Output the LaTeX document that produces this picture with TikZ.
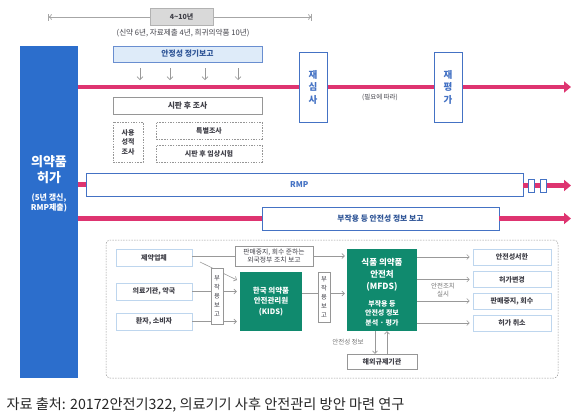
\documentclass[tikz,border=0pt]{standalone}
\usepackage{fontspec}
\setmainfont{Noto Sans CJK KR}
\usetikzlibrary{arrows.meta}
\definecolor{pk}{RGB}{222,52,112}
\definecolor{bl}{RGB}{44,110,204}
\definecolor{bd}{RGB}{68,114,196}
\definecolor{gr}{RGB}{16,138,110}
\definecolor{lb}{RGB}{222,235,249}
\definecolor{lbd}{RGB}{190,214,238}
\definecolor{tx}{RGB}{64,64,72}
\definecolor{tb}{RGB}{47,85,151}
\definecolor{gl}{RGB}{150,150,150}
\tikzset{
  fs/.style={font=\fontsize{#1}{8.5}\selectfont},
  bx/.style 2 args={minimum width=#1, minimum height=#2, inner sep=0pt, align=center},
  greybox/.style={draw=gl, fill=white, line width=0.5pt, text=tx},
  dashbox/.style={draw=gl, dashed, dash pattern=on 1.5pt off 1.2pt, fill=white, line width=0.5pt, text=tx},
  bluebox/.style={draw=bd, fill=white, line width=0.9pt},
  srcbox/.style={draw=lbd, fill=white, line width=0.7pt, text=tx, font=\fontsize{7}{8}\selectfont\bfseries},
  greenbox/.style={fill=gr, text=white, font=\bfseries},
  pinkline/.style={draw=pk, line width=4.5pt},
  pinkarrow/.style={pinkline, -{Triangle[length=7pt,width=11pt]}},
  garr/.style={draw=gray!80, line width=0.6pt, -{Straight Barb[length=2.5pt,width=5pt]}},
  gline/.style={draw=gray!80, line width=0.6pt},
}
\begin{document}
\begin{tikzpicture}[x=1pt,y=-1pt, fs=7]
\useasboundingbox (0,0) rectangle (578,418);

% timeline
\coordinate (t1) at (48,17);
\coordinate (t2) at (312,17);
\draw[draw=gray!70, line width=0.8pt, {Bar[width=7pt]To[length=3pt,width=6pt]}-{To[length=3pt,width=6pt]Bar[width=7pt]}] (t1) -- (t2);
\node[bx={63pt}{17pt}, fill=gray!30, draw=gray!60, text=tx, font=\fontsize{7}{8}\selectfont\bfseries] (yrs) at (181.5,16.5) {4\textasciitilde10년};
\node[text=tx, font=\fontsize{7.6}{9}\selectfont] (yrsn) at (183,33) {(신약 6년, 자료제출 4년, 희귀의약품 10년)};

% left permit box
\node[bx={58pt}{332pt}, fill=bl] (perm) at (49,212) {};
\node[text=white, align=center, font=\fontsize{13}{16}\selectfont\bfseries] (permt) at (49,170) {의약품\\허가};
\node[text=white, align=center, font=\fontsize{8}{10.5}\selectfont\bfseries] (perms) at (49,203) {(5년 갱신,\\RMP제출)};

% top pink arrow
\coordinate (e1) at (571,87);
\draw[pinkarrow] (perm.east |- e1) -- (e1);

\node[bx={149pt}{16pt}, fill=lb, draw=bd!80, line width=0.6pt, text=tb, font=\fontsize{7.8}{9}\selectfont\bfseries] (psr) at (187.5,54) {안정성 정기보고};
\foreach \x/\n in {140/a,170/b,205/c,238/d}{
  \coordinate (\n1) at (\x,68);
  \coordinate (\n2) at (\x,80);
  \draw[draw=gray!80, line width=0.6pt, -{Straight Barb[length=3pt,width=6pt]}] (\n1) -- (\n2);
}

\node[bluebox, bx={28pt}{70pt}, text=bd, font=\fontsize{9.5}{12.5}\selectfont\bfseries] (rev) at (313,87) {재\\심\\사};
\node[bluebox, bx={28pt}{70pt}, text=bd, font=\fontsize{9.5}{12.5}\selectfont\bfseries] (reev) at (448,87) {재\\평\\가};
\node[text=tx, font=\fontsize{6.5}{8}\selectfont] (need) at (380,97.5) {(필요에 따라)};

\node[greybox, bx={149pt}{17pt}, font=\fontsize{7.8}{9}\selectfont\bfseries] (pms) at (187.5,105.5) {시판 후 조사};
\node[dashbox, bx={30pt}{40pt}, font=\fontsize{7}{9.5}\selectfont\bfseries] (use) at (128,142) {사용\\성적\\조사};
\node[dashbox, bx={106pt}{17pt}, font=\fontsize{7}{8}\selectfont\bfseries] (spec) at (209,130.5) {특별조사};
\node[dashbox, bx={106pt}{17pt}, font=\fontsize{7}{8}\selectfont\bfseries] (clin) at (209,153.5) {시판 후 임상시험};

% RMP
\node[bluebox, bx={437pt}{23pt}] (rmp) at (304.5,184.5) {};
\node[anchor=west, text=bd, font=\fontsize{8}{9}\selectfont\bfseries] (rmpt) at ([xshift=201pt]rmp.west) {RMP};
\draw[pinkline] (perm.east |- rmp.west) -- (rmp.west);
\coordinate (e2) at (571,185.5);
\draw[pinkarrow] (rmp.east |- e2) -- (e2);
\node[draw=bd, fill=white, line width=0.8pt, bx={6pt}{13pt}] (sq1) at (531,185.5) {};
\node[draw=bd, fill=white, line width=0.8pt, bx={6pt}{13pt}] (sq2) at (543,185.5) {};

% report
\node[bluebox, bx={237pt}{23pt}, text=tb, font=\fontsize{7.8}{9}\selectfont\bfseries] (rep) at (380.5,218.5) {부작용 등 안전성 정보 보고};
\draw[pinkline] (perm.east |- rep.west) -- (rep.west);
\coordinate (e3) at (571,218.5);
\draw[pinkarrow] (rep.east) -- (e3);

% bottom panel
\node[draw=gl, dashed, dash pattern=on 1.5pt off 1.2pt, rounded corners=4pt, line width=0.5pt, bx={452pt}{138pt}] (panel) at (332,309) {};

\node[srcbox, bx={76pt}{17pt}] (comp) at (154,257.5) {제약업체};
\node[srcbox, bx={76pt}{17pt}] (med) at (154,291.5) {의료기관, 약국};
\node[srcbox, bx={76pt}{17pt}] (pat) at (154,321.5) {환자, 소비자};

\node[greybox, bx={78pt}{20pt}, font=\fontsize{6.8}{8.3}\selectfont] (forg) at (274,256) {판매중지, 회수 준하는\\외국정부 조치 보고};

\node[greenbox, bx={62pt}{59pt}, font=\fontsize{7.5}{10.5}\selectfont\bfseries] (kids) at (271,301.5) {한국 의약품\\안전관리원\\(KIDS)};
\node[greenbox, bx={70pt}{82pt}] (mfds) at (382,290) {};
\node[text=white, align=center, font=\fontsize{8.5}{12}\selectfont\bfseries] (mfdst) at (382,275) {식품 의약품\\안전처\\(MFDS)};
\node[text=white, align=center, font=\fontsize{7}{9.5}\selectfont\bfseries] (mfdss) at (382,313) {부작용 등\\안전성 정보\\분석 · 평가};

% connectors left
\draw[gline] (comp.east |- forg.west) -- (forg.west);
\draw[garr, shorten >=2pt] (forg.east) -- (forg.east -| mfds.west);
\coordinate (dg1) at (200,262);
\coordinate (dg2) at (237,280);
\draw[garr] (dg1) -- (dg2);
\draw[garr, shorten >=3pt] (med.east) -- (med.east -| kids.west);
\draw[garr, shorten >=3pt] (pat.east) -- (pat.east -| kids.west);
\draw[garr, shorten >=2pt] ([yshift=8pt]kids.east) -- ([yshift=8pt]kids.east -| mfds.west);

\node[greybox, bx={12pt}{56pt}, font=\fontsize{6.3}{9}\selectfont] (vb1) at (217,296) {부\\작\\용\\보\\고};
\node[greybox, bx={12pt}{50pt}, font=\fontsize{6.3}{8.8}\selectfont] (vb2) at (324,297) {부\\작\\용\\보\\고};

% right boxes
\node[srcbox, bx={78pt}{16pt}] (r1) at (512,257) {안전성서한};
\node[srcbox, bx={78pt}{16pt}] (r2) at (512,279.5) {허가변경};
\node[srcbox, bx={78pt}{16pt}] (r3) at (512,301) {판매중지, 회수};
\node[srcbox, bx={78pt}{16pt}] (r4) at (512,323) {허가 취소};
\foreach \r in {r1,r2,r3,r4}{
  \draw[garr, shorten >=3pt] (mfds.east |- \r.west) -- (\r.west);
}
\node[text=gray!90!black, align=center, font=\fontsize{6.5}{7.5}\selectfont] (act) at (443,290) {안전조치\\실시};

% overseas
\node[greybox, bx={70pt}{15pt}, font=\fontsize{7}{8}\selectfont\bfseries] (ovs) at (382,361.5) {해외규제기관};
\draw[garr] ([xshift=-7pt]mfds.south) -- ([xshift=-7pt]ovs.north);
\draw[garr] ([xshift=5pt]ovs.north) -- ([xshift=5pt]mfds.south);
\node[text=gray!90!black, font=\fontsize{6.5}{7.5}\selectfont] (sinfo) at (348,342) {안전성 정보};

% caption
\node[anchor=west, text=black!85, font=\fontsize{14.2}{16}\selectfont] (cap) at (3,405) {자료 출처: 20172안전기322, 의료기기 사후 안전관리 방안 마련 연구};
\end{tikzpicture}
\end{document}
